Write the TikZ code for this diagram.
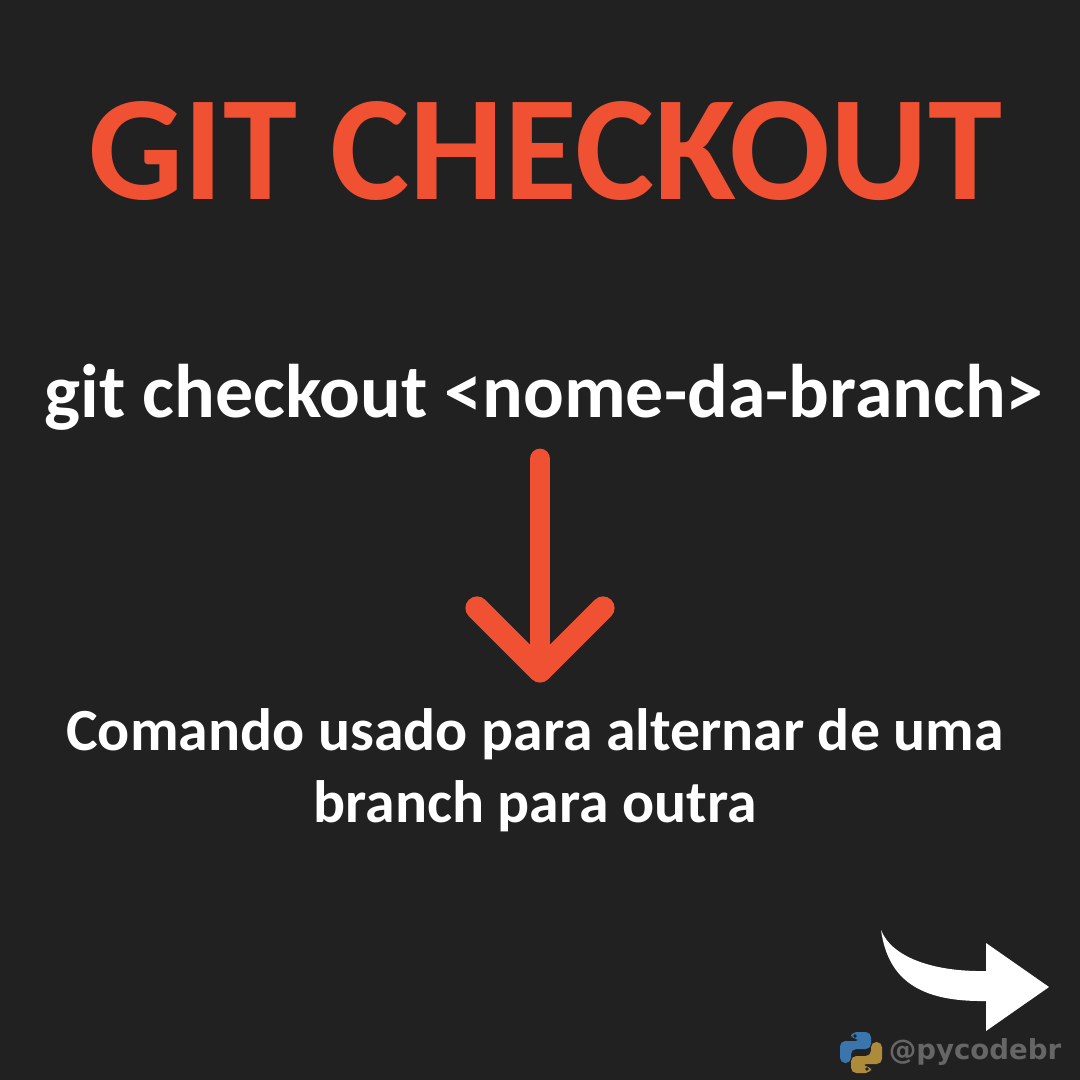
\documentclass[tikz,border=0pt]{standalone}
\usepackage{fontspec}
\setmainfont{Carlito}
\newfontfamily\handlefont{DejaVu Sans}
\usetikzlibrary{positioning}
\definecolor{bgdark}{HTML}{212121}
\definecolor{gitred}{HTML}{F05133}
\definecolor{pyblue}{HTML}{3A75AD}
\definecolor{pygold}{HTML}{AD8B3A}
\definecolor{handlegray}{HTML}{666666}

\begin{document}
\begin{tikzpicture}[
  x=0.01cm, y=-0.01cm,
  every node/.style={inner sep=0pt, outer sep=0pt, align=center},
  title/.style={font=\bfseries\fontsize{42.5}{50}\selectfont, text=gitred},
  command/.style={font=\bfseries\fontsize{21.6}{26}\selectfont, text=white},
  desc/.style={font=\bfseries\fontsize{17}{20.6}\selectfont, text=white},
  handle/.style={font=\handlefont\bfseries\fontsize{7.85}{10}\selectfont, text=handlegray},
  downarrow/.style={draw=gitred, line width=5.9pt, line cap=round, line join=round},
  downhead/.style={downarrow, line width=6.6pt},
  snake/.style={rounded corners=1.5pt}
]
% Background
\fill[bgdark] (0,0) rectangle (1080,1080);
\useasboundingbox (0,0) rectangle (1080,1080);

% Texts
\node[title] (heading) at (545,151) {GIT CHECKOUT};
\node[command] (cmd) at (544,397) {git checkout <nome-da-branch>};
\node[desc] (info) at (535,770) {Comando usado para alternar de uma\\branch para outra};

% Red arrow
\coordinate (shaft) at (540,459);
\coordinate (tip) at (540,671);
\draw[downarrow] (shaft) -- (tip);
\draw[downhead] (477,608) -- (tip) -- (603,608);

% Next page arrow
\fill[white] (881,930) .. controls (892,958) and (935,972) .. (986,971)
  -- (986,943) -- (1049,987) -- (986,1031) -- (986,1001)
  .. controls (920,1002) and (888,980) .. (881,930) -- cycle;

% Python logo
\fill[pyblue, snake] (851,1032) -- (871,1032) -- (871,1049) -- (851,1049) -- (851,1063)
  -- (840,1063) -- (840,1041) -- (861,1041) -- (861,1039) -- (851,1039) -- cycle;
\fill[pygold, snake] (871,1073) -- (851,1073) -- (851,1056) -- (871,1056) -- (871,1042)
  -- (882,1042) -- (882,1064) -- (861,1064) -- (861,1066) -- (871,1066) -- cycle;
\fill[bgdark] (855,1036) circle (1.8);
\fill[bgdark] (867,1069) circle (1.8);

\node[handle] (pycode) at (975,1052) {@pycodebr};
\end{tikzpicture}
\end{document}
